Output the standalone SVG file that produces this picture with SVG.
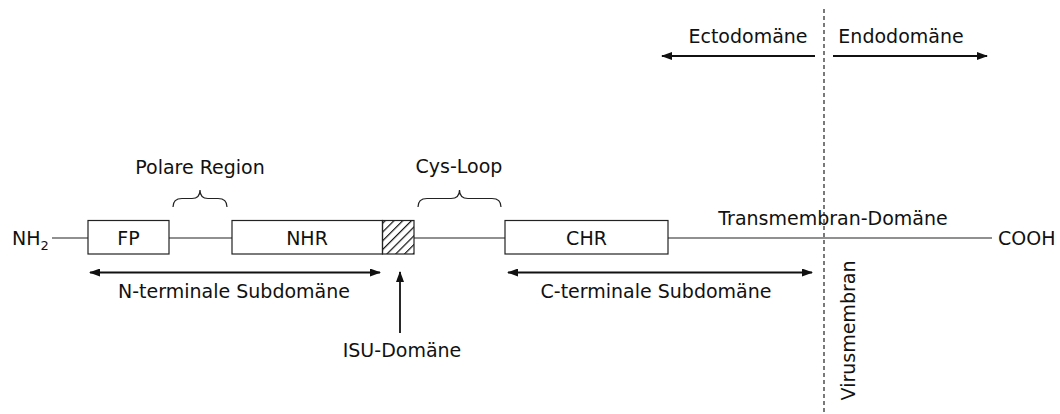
<svg xmlns="http://www.w3.org/2000/svg" width="1060" height="414" viewBox="0 0 1060 414">
<style>
text{font-family:"DejaVu Sans",Verdana,sans-serif;font-size:19px;fill:#111}
.box{fill:#fff;stroke:#222;stroke-width:1.2}
.ln{stroke:#222;stroke-width:1.2;fill:none}
.ar{stroke:#111;stroke-width:1.8;fill:none}
.br{stroke:#222;stroke-width:1.2;fill:none}
.mid{text-anchor:middle}
</style>
<defs>
<marker id="ah" viewBox="0 0 11 8" refX="10" refY="4" markerWidth="11" markerHeight="8" markerUnits="userSpaceOnUse" orient="auto-start-reverse">
<path d="M0,0 L11,4 L0,8 Z" fill="#111"/>
</marker>
<pattern id="hatch" patternUnits="userSpaceOnUse" width="6.2" height="6.2" patternTransform="rotate(45)">
<line x1="0.6" y1="0" x2="0.6" y2="6.2" stroke="#111" stroke-width="1.2"/>
</pattern>
</defs>
<g id="connectors">
<path class="ln" d="M52,238 H88 M169,238 H232 M414,238 H505 M668,238 H992"/>
<line class="ar" x1="90" y1="272.5" x2="380" y2="272.5" marker-start="url(#ah)" marker-end="url(#ah)"/>
<line class="ar" x1="508" y1="272.5" x2="812" y2="272.5" marker-start="url(#ah)" marker-end="url(#ah)"/>
<line class="ar" x1="815" y1="56" x2="662" y2="56" marker-end="url(#ah)"/>
<line class="ar" x1="833" y1="56" x2="987" y2="56" marker-end="url(#ah)"/>
<line class="ar" x1="400" y1="333" x2="400" y2="272" marker-end="url(#ah)"/>
<line x1="824" y1="9" x2="824" y2="412" stroke="#333" stroke-width="1.3" stroke-dasharray="4,3"/>
<path class="br" d="M173,207 Q173,198.5 182,198.5 L192,198.5 Q200,198.5 200,190 Q200,198.5 208,198.5 L218,198.5 Q227,198.5 227,207"/>
<path class="br" d="M418,207 Q418,198.5 427,198.5 L451,198.5 Q459.5,198.5 459.5,190 Q459.5,198.5 468,198.5 L492,198.5 Q501,198.5 501,207"/>
</g>
<g id="nh2"><text x="12" y="245">NH<tspan font-size="13" dy="5">2</tspan></text></g>
<g id="fp"><rect class="box" x="88" y="220.5" width="81" height="33.5"/><text class="mid" x="128.5" y="245">FP</text></g>
<g id="nhr"><rect class="box" x="232" y="220.5" width="150.5" height="33.5"/><text class="mid" x="307" y="245">NHR</text></g>
<g id="isu-box"><rect x="382.5" y="220.5" width="31.5" height="33.5" fill="url(#hatch)" stroke="#222" stroke-width="1.2"/></g>
<g id="chr"><rect class="box" x="505" y="220.5" width="163" height="33.5"/><text class="mid" x="586.5" y="245">CHR</text></g>
<g id="cooh"><text x="998" y="245">COOH</text></g>
<g id="polare"><text class="mid" x="200" y="174">Polare Region</text></g>
<g id="cys"><text class="mid" x="459" y="173">Cys-Loop</text></g>
<g id="tm"><text class="mid" x="833" y="225" font-size="17">Transmembran-Domäne</text></g>
<g id="nterm"><text class="mid" x="234" y="298">N-terminale Subdomäne</text></g>
<g id="cterm"><text class="mid" x="656" y="298">C-terminale Subdomäne</text></g>
<g id="isu"><text class="mid" x="402" y="357">ISU-Domäne</text></g>
<g id="ecto"><text class="mid" x="748" y="43">Ectodomäne</text></g>
<g id="endo"><text class="mid" x="901" y="43">Endodomäne</text></g>
<g id="virus"><text class="mid" transform="translate(855,330.5) rotate(-90)">Virusmembran</text></g>
</svg>
